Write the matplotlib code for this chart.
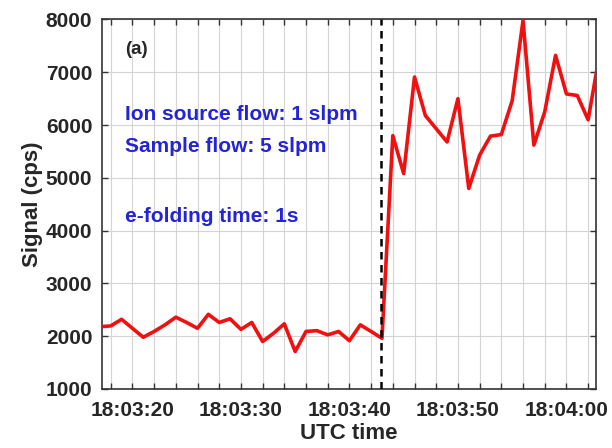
import matplotlib
matplotlib.use("Agg")
import matplotlib.pyplot as plt
import matplotlib.dates as mdates
import matplotlib.ticker as mticker
import pandas as pd

plt.rcParams['font.family'] = ['Liberation Sans', 'DejaVu Sans']
plt.rcParams['font.weight'] = 'bold'

# 1 Hz signal, starting at 18:03:17 UTC
start_time = "2000-01-01 18:03:17"
signal_cps = [2180, 2195, 2320, 2150, 1980, 2090, 2215, 2360, 2260, 2150,
              2415, 2260, 2330, 2130, 2260, 1900, 2055, 2235, 1710, 2090,
              2105, 2025, 2090, 1915, 2215, 2090, 1960, 5800, 5080, 6910,
              6180, 5930, 5680, 6500, 4800, 5430, 5790, 5820, 6460, 7980,
              5620, 6250, 7320, 6590, 6560, 6100, 7280]
switch_time = "2000-01-01 18:03:42.95"
x_start = "2000-01-01 18:03:17.2"
x_end = "2000-01-01 18:04:02.7"

times = pd.date_range(start_time, periods=len(signal_cps), freq="1s")

fig = plt.figure(figsize=(6.12, 4.48), dpi=100)
ax = fig.add_axes([0.1667, 0.1317, 0.8067, 0.8248])

ax.plot(times, signal_cps, color='#f01010', lw=2.6, zorder=3)
ax.axvline(pd.Timestamp(switch_time), color='black', lw=1.8,
           dashes=(3, 2.2), zorder=4)

ax.set_xlim(pd.Timestamp(x_start), pd.Timestamp(x_end))
ax.set_ylim(1000, 8000)

# ticks every 2 s, labels only on the 10 s marks
ax.xaxis.set_major_locator(mdates.SecondLocator(bysecond=range(0, 60, 2)))

def fmt_time(x, pos):
    d = mdates.num2date(x)
    return d.strftime('%H:%M:%S') if d.second % 10 == 0 else ''

ax.xaxis.set_major_formatter(mticker.FuncFormatter(fmt_time))
ax.yaxis.set_major_locator(mticker.MultipleLocator(1000))

ax.grid(True, color='#d4d4d4', lw=0.8)
ax.set_axisbelow(True)
ax.tick_params(direction='in', top=True, right=True, length=4, width=1,
               color='#333333', labelsize=15, labelcolor='#262626')
ax.tick_params(axis='x', pad=9)
ax.tick_params(axis='y', pad=7)
for s in ax.spines.values():
    s.set_color('#333333')
    s.set_linewidth(1.2)

ax.set_xlabel('UTC time', fontsize=16, fontweight='bold', color='#262626',
              labelpad=2)
ax.set_ylabel('Signal (cps)', fontsize=16, fontweight='bold', color='#262626',
              labelpad=2)

ax.text(0.046, 0.918, '(a)', transform=ax.transAxes, fontsize=13.5,
        fontweight='bold', color='#262626', va='center')
blue = '#2323d8'
ax.text(0.046, 0.742, 'Ion source flow: 1 slpm', transform=ax.transAxes,
        fontsize=15, fontweight='bold', color=blue, va='center')
ax.text(0.046, 0.655, 'Sample flow: 5 slpm', transform=ax.transAxes,
        fontsize=15, fontweight='bold', color=blue, va='center')
ax.text(0.046, 0.468, 'e-folding time: 1s', transform=ax.transAxes,
        fontsize=15, fontweight='bold', color=blue, va='center')

fig.savefig('out.png', dpi=100)
